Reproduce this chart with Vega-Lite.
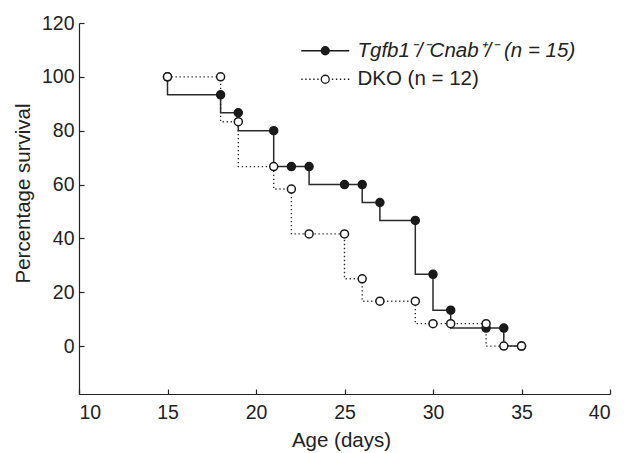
{
  "$schema": "https://vega.github.io/schema/vega-lite/v6.json",
  "width": 531,
  "height": 371,
  "autosize": {"type": "none"},
  "padding": {"left": 79, "top": 23, "right": 24, "bottom": 59},
  "background": "white",
  "config": {
    "view": {"stroke": null},
    "font": "Liberation Sans",
    "axis": {
      "grid": false,
      "domainColor": "#222222",
      "domainWidth": 1.2,
      "tickColor": "#222222",
      "tickWidth": 1.2,
      "tickSize": -5,
      "labelFont": "Liberation Sans",
      "labelFontSize": 19.5,
      "labelColor": "#222222",
      "titleFont": "Liberation Sans",
      "titleFontSize": 20.5,
      "titleFontWeight": "normal",
      "titleColor": "#222222"
    }
  },
  "data": {
    "values": [
      {"group": "Tgfb1", "age": 15, "survival": 100},
      {"group": "Tgfb1", "age": 18, "survival": 93.33},
      {"group": "Tgfb1", "age": 19, "survival": 86.67},
      {"group": "Tgfb1", "age": 21, "survival": 80},
      {"group": "Tgfb1", "age": 22, "survival": 66.67},
      {"group": "Tgfb1", "age": 23, "survival": 66.67},
      {"group": "Tgfb1", "age": 25, "survival": 60},
      {"group": "Tgfb1", "age": 26, "survival": 60},
      {"group": "Tgfb1", "age": 27, "survival": 53.33},
      {"group": "Tgfb1", "age": 29, "survival": 46.67},
      {"group": "Tgfb1", "age": 30, "survival": 26.67},
      {"group": "Tgfb1", "age": 31, "survival": 13.33},
      {"group": "Tgfb1", "age": 33, "survival": 6.67},
      {"group": "Tgfb1", "age": 34, "survival": 6.67},
      {"group": "Tgfb1", "age": 35, "survival": 0},
      {"group": "DKO", "age": 15, "survival": 100},
      {"group": "DKO", "age": 18, "survival": 100},
      {"group": "DKO", "age": 19, "survival": 83.33},
      {"group": "DKO", "age": 21, "survival": 66.67},
      {"group": "DKO", "age": 22, "survival": 58.33},
      {"group": "DKO", "age": 23, "survival": 41.67},
      {"group": "DKO", "age": 25, "survival": 41.67},
      {"group": "DKO", "age": 26, "survival": 25},
      {"group": "DKO", "age": 27, "survival": 16.67},
      {"group": "DKO", "age": 29, "survival": 16.67},
      {"group": "DKO", "age": 30, "survival": 8.33},
      {"group": "DKO", "age": 31, "survival": 8.33},
      {"group": "DKO", "age": 33, "survival": 8.33},
      {"group": "DKO", "age": 34, "survival": 0},
      {"group": "DKO", "age": 35, "survival": 0}
    ]
  },
  "encoding": {
    "x": {
      "field": "age",
      "type": "quantitative",
      "scale": {"domain": [10, 40], "nice": false, "zero": false},
      "axis": {
        "values": [10, 15, 20, 25, 30, 35, 40],
        "title": "Age (days)",
        "labelPadding": 14.5,
        "titleX": 262,
        "titleY": 52.5,
        "titleBaseline": "alphabetic",
        "titleAlign": "center"
      }
    },
    "y": {
      "field": "survival",
      "type": "quantitative",
      "scale": {"domain": [-17.8, 120], "nice": false, "zero": false},
      "axis": {
        "values": [0, 20, 40, 60, 80, 100, 120],
        "title": "Percentage survival",
        "labelPadding": 10,
        "titleX": -50,
        "titleY": 170,
        "titleAngle": 270,
        "titleBaseline": "alphabetic",
        "titleAlign": "center"
      }
    }
  },
  "layer": [
    {
      "transform": [{"filter": "datum.group === 'Tgfb1'"}],
      "mark": {"type": "line", "interpolate": "step-before", "color": "#2a2a2a", "strokeWidth": 1.5},
      "encoding": {"order": {"field": "age", "type": "quantitative"}}
    },
    {
      "transform": [{"filter": "datum.group === 'DKO'"}],
      "mark": {"type": "line", "interpolate": "step-before", "color": "#2a2a2a", "strokeWidth": 1.4, "strokeDash": [1.3, 2.7]},
      "encoding": {"order": {"field": "age", "type": "quantitative"}}
    },
    {
      "mark": {"type": "circle", "size": 64, "stroke": "#1a1a1a", "strokeWidth": 1.5, "opacity": 1, "fillOpacity": 1},
      "encoding": {
        "fill": {
          "field": "group",
          "type": "nominal",
          "scale": {"domain": ["Tgfb1", "DKO"], "range": ["#1a1a1a", "#ffffff"]},
          "legend": {
            "title": null,
            "orient": "none",
            "legendX": 236,
            "legendY": 17.5,
            "padding": 0,
            "symbolSize": 64,
            "symbolType": {"expr": "datum.value === 'Tgfb1' ? 'M-6,0H6M-1,0A1,1,0,1,1,1,0A1,1,0,1,1,-1,0Z' : 'M-6,0h0.35M-5,0h0.35M-4,0h0.35M-3,0h0.35M-2,0h0.35M1.65,0h0.35M2.65,0h0.35M3.65,0h0.35M4.65,0h0.35M5.65,0h0.35M-1,0A1,1,0,1,1,1,0A1,1,0,1,1,-1,0Z'"},
            "symbolStrokeColor": "#1a1a1a",
            "symbolStrokeWidth": 1.3,
            "symbolOpacity": 1,
            "labelOffset": 22,
            "rowPadding": 7.5,
            "labelFont": "Liberation Sans",
            "labelFontSize": 20.5,
            "labelFontStyle": {"expr": "datum.value === 'Tgfb1' ? 'italic' : 'normal'"},
            "labelColor": "#222222",
            "labelLimit": 400,
            "labelExpr": "datum.value === 'Tgfb1' ? 'Tgfb1⁻/⁻Cnab⁺/⁻ (n = 15)' : 'DKO (n = 12)'"
          }
        }
      }
    }
  ]
}
